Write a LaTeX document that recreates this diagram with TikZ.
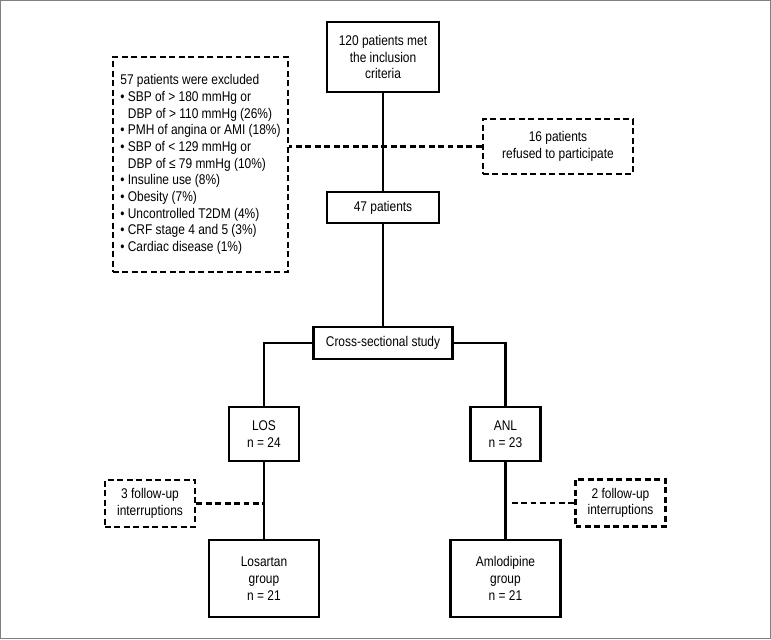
\documentclass[tikz,border=0pt]{standalone}
\usepackage{fontspec}
\setmainfont{Liberation Sans}[FakeStretch=0.85]
\usetikzlibrary{positioning, calc}
\tikzset{
  fc box/.style={
    rectangle, draw=black, fill=white, line width=1.3pt,
    inner sep=0pt, align=center,
    font=\fontsize{8}{9.5}\selectfont
  },
  fc dashbox/.style={
    fc box, line width=1.2pt, dash pattern=on 3.4pt off 2pt
  },
  fc line/.style={
    draw=black, line width=1.2pt
  },
  fc dashline/.style={
    fc line, dash pattern=on 3.4pt off 2pt
  }
}

\begin{document}
\begin{tikzpicture}

\useasboundingbox (0,0) rectangle (15.42,-12.78);
\draw[black!50, line width=0.6pt] (0.01,-0.01) rectangle (15.41,-12.77);

% ====== ENROLMENT ======
\node[fc box, minimum width=2.25cm, minimum height=1.4cm] (met) at (7.66,-1.14)
  {120 patients met\\the inclusion\\criteria};
\node[fc box, minimum width=2.25cm, minimum height=0.62cm] (pts) at (7.66,-4.15)
  {47 patients};

% -- Excluded / refused --
\node[fc dashbox, minimum width=3.5cm, minimum height=4.3cm, align=left] (excl) at (4.01,-3.29)
  {57 patients were excluded\\
   \textbullet\ SBP of > 180 mmHg or\\
   \phantom{\textbullet\ }DBP of > 110 mmHg (26\%)\\
   \textbullet\ PMH of angina or AMI (18\%)\\
   \textbullet\ SBP of < 129 mmHg or\\
   \phantom{\textbullet\ }DBP of ≤ 79 mmHg (10\%)\\
   \textbullet\ Insuline use (8\%)\\
   \textbullet\ Obesity (7\%)\\
   \textbullet\ Uncontrolled T2DM (4\%)\\
   \textbullet\ CRF stage 4 and 5 (3\%)\\
   \textbullet\ Cardiac disease (1\%)};
\node[fc dashbox, minimum width=3.0cm, minimum height=1.1cm] (refused) at (11.16,-2.93)
  {16 patients\\refused to participate};

% ====== ALLOCATION ======
\node[fc box, minimum width=2.78cm, minimum height=0.64cm] (cross) at (7.66,-6.86)
  {Cross-sectional study};
\node[fc box, minimum width=1.4cm, minimum height=1.08cm] (los) at (5.28,-8.68)
  {LOS\\n = 24};
\node[fc box, minimum width=1.4cm, minimum height=1.08cm] (anl) at (10.11,-8.68)
  {ANL\\n = 23};

% -- Follow-up losses --
\node[fc dashbox, minimum width=1.8cm, minimum height=0.94cm] (fuLos) at (3.0,-10.07)
  {3 follow-up\\interruptions};
\node[fc dashbox, minimum width=1.8cm, minimum height=0.94cm] (fuAnl) at (12.41,-10.06)
  {2 follow-up\\interruptions};

% -- Final groups --
\node[fc box, minimum width=2.2cm, minimum height=1.54cm] (losGrp) at (5.28,-11.57)
  {Losartan\\group\\n = 21};
\node[fc box, minimum width=2.2cm, minimum height=1.54cm] (anlGrp) at (10.11,-11.57)
  {Amlodipine\\group\\n = 21};

% ====== CONNECTORS ======
\draw[fc dashline] (refused.west) -- (refused.west -| excl.east);
\draw[fc dashline] (fuLos.east) -- (fuLos.east -| los.south);
\draw[fc dashline] (fuAnl.west) -- ([xshift=0.12cm]fuAnl.west -| anl.south);

\draw[fc line] (met) -- (pts);
\draw[fc line] (pts) -- (cross);
\draw[fc line] (cross.west) -| (los.north);
\draw[fc line] (cross.east) -| (anl.north);
\draw[fc line] (los) -- (losGrp);
\draw[fc line] (anl) -- (anlGrp);

\end{tikzpicture}
\end{document}
